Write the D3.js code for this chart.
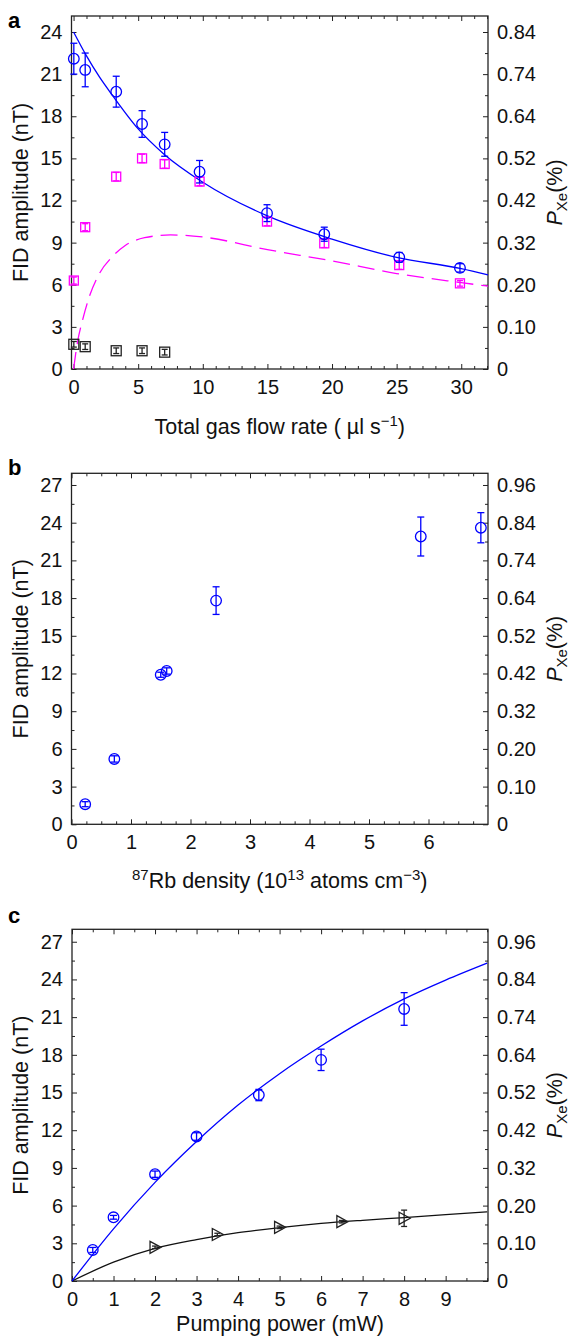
<!DOCTYPE html>
<html>
<head>
<meta charset="utf-8">
<script src="https://cdn.jsdelivr.net/npm/d3@7"></script>
<style>
  body { margin: 0; background: #fff; }
  svg { display: block; font-family: "Liberation Sans", Arial, Helvetica, sans-serif; }
</style>
</head>
<body>
<svg id="chart" width="572" height="1338"></svg>
<script>
// ---- panel a : FID amplitude vs total gas flow rate
const flowRate = [0.02, 0.9, 3.3, 5.3, 7.05, 9.75, 14.97, 19.4, 25.2, 29.9];
const fidFlow = [22.1, 21.3, 19.75, 17.45, 16.0, 14.05, 11.1, 9.6, 7.95, 7.2];
const fidFlowErr = [1.1, 1.2, 1.1, 0.95, 0.85, 0.8, 0.6, 0.5, 0.35, 0.3];
const pinkFlow = [6.3, 10.1, 13.7, 15.0, 14.6, 13.35, 10.5, 8.95, 7.4, 6.1];
const pinkFlowErr = [0.25, 0.25, 0.3, 0.3, 0.3, 0.3, 0.3, 0.3, 0.3, 0.2];
const blackFlowX = [0.02, 0.9, 3.3, 5.3, 7.05];
const blackFlow = [1.76, 1.59, 1.3, 1.3, 1.2];
const blackFlowErr = [0.2, 0.2, 0.2, 0.2, 0.2];
const fitFlowX = [0, 1, 2, 3, 5, 7, 10, 15, 20, 25, 30, 32.07];
const fitFlowY = [24.0, 22.3, 20.8, 19.5, 17.1, 15.3, 13.3, 10.9, 9.25, 7.95, 7.15, 6.7];
const dashFlowX = [0, 0.3, 0.7, 1.2, 2.0, 3.0, 4.0, 5.5, 7.5, 10, 15, 20, 25, 30, 32.07];
const dashFlowY = [0, 1.9, 3.5, 5.1, 6.8, 8.0, 8.8, 9.35, 9.55, 9.4, 8.5, 7.7, 6.8, 6.15, 5.9];

// ---- panel b : FID amplitude vs Rb density
const rbDensity = [0.23, 0.72, 1.5, 1.6, 2.43, 5.87, 6.88];
const fidRb = [1.6, 5.2, 11.9, 12.2, 17.8, 22.9, 23.6];
const fidRbErr = [0.2, 0.25, 0.2, 0.25, 1.1, 1.55, 1.2];

// ---- panel c : FID amplitude vs pumping power
const pumpPower = [0.5, 1, 2, 3, 4.5, 6, 8];
const fidPump = [2.47, 5.07, 8.5, 11.5, 14.8, 17.6, 21.65];
const fidPumpErr = [0.2, 0.15, 0.25, 0.3, 0.45, 0.85, 1.3];
const triPower = [2, 3.5, 5, 6.5, 8];
const triPump = [2.68, 3.7, 4.27, 4.72, 4.99];
const triPumpErr = [0.1, 0.1, 0.1, 0.1, 0.65];
const fitPumpX = [0, 1, 2, 3, 4, 5, 6, 7, 8, 9, 10];
const fitPumpBlue = [0, 4.15, 7.85, 11.1, 14.0, 16.5, 18.7, 20.7, 22.45, 23.95, 25.3];
const fitPumpBlack = [0, 1.5, 2.6, 3.3, 3.85, 4.25, 4.58, 4.83, 5.05, 5.28, 5.5];

// ---- tick labels
const leftTicksA = [0, 3, 6, 9, 12, 15, 18, 21, 24];
const rightLabelsA = ["0", "0.10", "0.20", "0.32", "0.42", "0.52", "0.64", "0.74", "0.84"];
const leftTicksBC = [0, 3, 6, 9, 12, 15, 18, 21, 24, 27];
const rightLabelsBC = ["0", "0.10", "0.20", "0.32", "0.42", "0.52", "0.64", "0.74", "0.84", "0.96"];
const xTicksA = [0, 5, 10, 15, 20, 25, 30];
const xTicksB = [0, 1, 2, 3, 4, 5, 6];
const xTicksC = [0, 1, 2, 3, 4, 5, 6, 7, 8, 9];

const BLUE = "#0000ff", PINK = "#ff00ff", DARK = "#222";
const FONT = 20, TITLE_FONT = 21.5;
const svg = d3.select("#chart");

function zip(xs, ys, es) {
  return xs.map((x, i) => ({ x, y: ys[i], e: es ? es[i] : 0 }));
}

// frame, inward ticks on four sides, tick labels
function drawFrame(p) {
  const g = svg.append("g");
  const x = d3.scaleLinear().domain(p.xDomain).range([p.left, p.right]);
  const y = d3.scaleLinear().domain(p.yDomain).range([p.bottom, p.top]);
  const yMinor = d3.range(0, p.yDomain[1], 1.5).filter(v => !p.yTicks.includes(v));
  const xMinor = d3.range(0, p.xDomain[1], p.xMinorStep).filter(v => !p.xTicks.some(t => Math.abs(t - v) < 1e-6));

  const axes = [
    [d3.axisBottom(x).tickValues(p.xTicks).tickSizeInner(-5).tickSizeOuter(0).tickPadding(11)
      .tickFormat(d3.format("d")), `translate(0,${p.bottom})`],
    [d3.axisBottom(x).tickValues(xMinor).tickSizeInner(-3).tickSizeOuter(0).tickFormat(""), `translate(0,${p.bottom})`],
    [d3.axisTop(x).tickValues(p.xTicks).tickSizeInner(-5).tickSizeOuter(0).tickFormat(""), `translate(0,${p.top})`],
    [d3.axisTop(x).tickValues(xMinor).tickSizeInner(-3).tickSizeOuter(0).tickFormat(""), `translate(0,${p.top})`],
    [d3.axisLeft(y).tickValues(p.yTicks).tickSizeInner(-5).tickSizeOuter(0).tickPadding(9)
      .tickFormat(d3.format("d")), `translate(${p.left},0)`],
    [d3.axisLeft(y).tickValues(yMinor).tickSizeInner(-3).tickSizeOuter(0).tickFormat(""), `translate(${p.left},0)`],
    [d3.axisRight(y).tickValues(p.yTicks).tickSizeInner(-5).tickSizeOuter(0).tickPadding(9)
      .tickFormat((d, i) => p.rightLabels[i]), `translate(${p.right},0)`],
    [d3.axisRight(y).tickValues(yMinor).tickSizeInner(-3).tickSizeOuter(0).tickFormat(""), `translate(${p.right},0)`]
  ];
  axes.forEach(([axis, tr]) => {
    const a = g.append("g").attr("transform", tr).call(axis);
    a.select(".domain").remove();
    a.attr("font-size", FONT).attr("font-family", null);
    a.selectAll("line").attr("stroke", DARK).attr("stroke-width", 1);
    a.selectAll("text").attr("fill", "#111");
  });

  g.append("rect")
    .attr("x", p.left).attr("y", p.top)
    .attr("width", p.right - p.left).attr("height", p.bottom - p.top)
    .attr("fill", "none").attr("stroke", DARK).attr("stroke-width", 1.3);

  // panel letter
  svg.append("text").attr("x", 8).attr("y", p.letterY)
    .attr("font-size", 22).attr("font-weight", "bold").text(p.letter);

  // left title
  const cy = (p.top + p.bottom) / 2;
  svg.append("text").attr("transform", `translate(28,${cy}) rotate(-90)`)
    .attr("text-anchor", "middle").attr("font-size", TITLE_FONT).attr("fill", "#111")
    .text("FID amplitude (nT)");

  // right title P_Xe(%)
  const rt = svg.append("text").attr("transform", `translate(562,${cy}) rotate(-90)`)
    .attr("text-anchor", "middle").attr("font-size", TITLE_FONT).attr("fill", "#111");
  rt.append("tspan").attr("font-style", "italic").text("P");
  rt.append("tspan").attr("font-size", 15).attr("dy", 5).text("Xe");
  rt.append("tspan").attr("dy", -5).text("(%)");

  // bottom title, parts are [text, isSuperscript]
  const bt = svg.append("text").attr("x", (p.left + p.right) / 2).attr("y", p.titleY)
    .attr("text-anchor", "middle").attr("font-size", TITLE_FONT).attr("fill", "#111");
  let up = false;
  p.xTitle.forEach(([t, sup]) => {
    const s = bt.append("tspan").text(t);
    if (sup && !up) s.attr("dy", -8);
    if (!sup && up) s.attr("dy", 8);
    if (sup) s.attr("font-size", 15);
    up = sup;
  });
  return { g, x, y };
}

function errorBars(g, pts, x, y, color, cap) {
  const eb = g.append("g").attr("stroke", color).attr("stroke-width", 1.3);
  pts.forEach(d => {
    const y0 = y(d.y - d.e), y1 = y(d.y + d.e), cx = x(d.x);
    eb.append("line").attr("x1", cx).attr("x2", cx).attr("y1", y0).attr("y2", y1);
    eb.append("line").attr("x1", cx - cap).attr("x2", cx + cap).attr("y1", y0).attr("y2", y0);
    eb.append("line").attr("x1", cx - cap).attr("x2", cx + cap).attr("y1", y1).attr("y2", y1);
  });
}

function circles(g, pts, x, y, color) {
  errorBars(g, pts, x, y, color, 3.5);
  g.append("g").selectAll("circle").data(pts).join("circle")
    .attr("cx", d => x(d.x)).attr("cy", d => y(d.y)).attr("r", 5.3)
    .attr("fill", "none").attr("stroke", color).attr("stroke-width", 1.3);
}

function squares(g, pts, x, y, color, s) {
  g.append("g").selectAll("rect").data(pts).join("rect")
    .attr("x", d => x(d.x) - s / 2).attr("y", d => y(d.y) - s / 2)
    .attr("width", s).attr("height", s)
    .attr("fill", "none").attr("stroke", color).attr("stroke-width", 1.3);
  errorBars(g, pts, x, y, color, 3);
}

function curve(g, xs, ys, x, y, color, dash) {
  const line = d3.line().x(d => x(d[0])).y(d => y(d[1])).curve(d3.curveMonotoneX);
  g.append("path").datum(xs.map((v, i) => [v, ys[i]]))
    .attr("d", line).attr("fill", "none").attr("stroke", color)
    .attr("stroke-width", 1.3).attr("stroke-dasharray", dash || null);
}

// ---- panel a
{
  const { g, x, y } = drawFrame({
    left: 71.5, right: 488, top: 16, bottom: 369,
    xDomain: [-0.16, 32.07], yDomain: [0, 25.14],
    xTicks: xTicksA, xMinorStep: 1, yTicks: leftTicksA, rightLabels: rightLabelsA,
    letter: "a", letterY: 28, titleY: 434,
    xTitle: [["Total gas flow rate ( \u00b5l s", false], ["\u22121", true], [")", false]]
  });
  curve(g, dashFlowX, dashFlowY, x, y, PINK, "17,8");
  curve(g, fitFlowX, fitFlowY, x, y, BLUE);
  squares(g, zip(flowRate, pinkFlow, pinkFlowErr), x, y, PINK, 9);
  squares(g, zip(blackFlowX, blackFlow, blackFlowErr), x, y, DARK, 10);
  circles(g, zip(flowRate, fidFlow, fidFlowErr), x, y, BLUE);
}

// ---- panel b
{
  const { g, x, y } = drawFrame({
    left: 71.5, right: 488, top: 473.3, bottom: 824.3,
    xDomain: [0, 7], yDomain: [0, 27.93],
    xTicks: xTicksB, xMinorStep: 0.25, yTicks: leftTicksBC, rightLabels: rightLabelsBC,
    letter: "b", letterY: 475, titleY: 888,
    xTitle: [["87", true], ["Rb density (10", false], ["13", true], [" atoms cm", false], ["\u22123", true], [")", false]]
  });
  circles(g, zip(rbDensity, fidRb, fidRbErr), x, y, BLUE);
}

// ---- panel c
{
  const { g, x, y } = drawFrame({
    left: 72, right: 488, top: 929.3, bottom: 1281,
    xDomain: [0, 10.02], yDomain: [0, 27.99],
    xTicks: xTicksC, xMinorStep: 0.5, yTicks: leftTicksBC, rightLabels: rightLabelsBC,
    letter: "c", letterY: 923, titleY: 1331,
    xTitle: [["Pumping power (mW)", false]]
  });
  curve(g, fitPumpX, fitPumpBlack, x, y, "#111");
  curve(g, fitPumpX, fitPumpBlue, x, y, BLUE);
  const tri = zip(triPower, triPump, triPumpErr);
  errorBars(g, tri, x, y, DARK, 3);
  g.append("g").selectAll("path").data(tri).join("path")
    .attr("d", "M-5,-6L6,0L-5,6Z")
    .attr("transform", d => `translate(${x(d.x)},${y(d.y)})`)
    .attr("fill", "none").attr("stroke", DARK).attr("stroke-width", 1.3);
  circles(g, zip(pumpPower, fidPump, fidPumpErr), x, y, BLUE);
}
</script>
</body>
</html>
